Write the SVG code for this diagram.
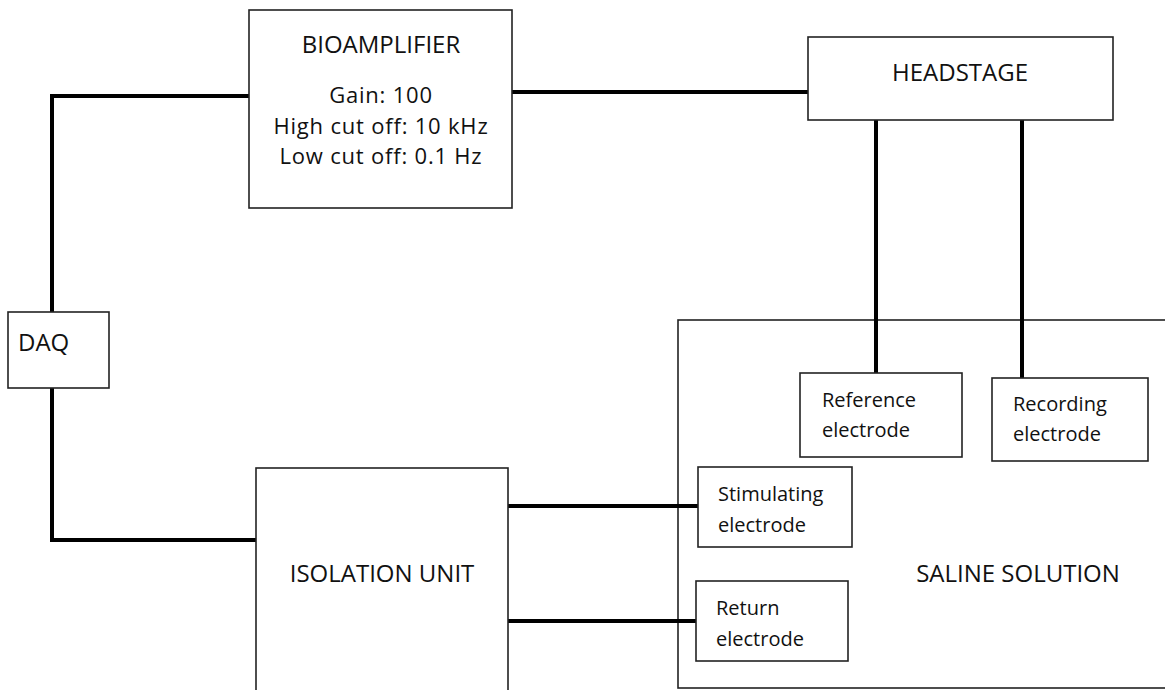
<svg xmlns="http://www.w3.org/2000/svg" width="1165" height="690" viewBox="0 0 1165 690">
<style>
.box{fill:#fff;stroke:#222;stroke-width:1.6}
.wire{fill:none;stroke:#000;stroke-width:4;stroke-linejoin:miter;stroke-linecap:butt}
.t{font-family:"Open Sans","Noto Sans",sans-serif;font-size:24px;fill:#111}
.p{font-family:"Open Sans","Noto Sans",sans-serif;font-size:22px;letter-spacing:0.8px;fill:#111}
.s{font-family:"Open Sans","Noto Sans",sans-serif;font-size:20px;fill:#111}
.c{text-anchor:middle}
</style>
<rect width="1165" height="690" fill="#fff"/>
<g id="saline">
<rect class="box" x="678" y="320" width="520" height="368"/>
<text class="t c" x="1018" y="582">SALINE SOLUTION</text>
</g>
<g id="connectors">
<polyline class="wire" points="52,312 52,96 249,96"/>
<line class="wire" x1="512" y1="92" x2="808" y2="92"/>
<line class="wire" x1="876" y1="120" x2="876" y2="373"/>
<line class="wire" x1="1022" y1="120" x2="1022" y2="378"/>
<polyline class="wire" points="52,388 52,540 256,540"/>
<line class="wire" x1="508" y1="506" x2="698" y2="506"/>
<line class="wire" x1="508" y1="621" x2="696" y2="621"/>
</g>
<g id="bioamplifier">
<rect class="box" x="249" y="10" width="263" height="198"/>
<text class="t c" x="381" y="53">BIOAMPLIFIER</text>
<text class="p c" x="381" y="103">Gain: 100</text>
<text class="p c" x="381" y="133.5">High cut off: 10 kHz</text>
<text class="p c" x="381" y="164">Low cut off: 0.1 Hz</text>
</g>
<g id="headstage">
<rect class="box" x="808" y="37" width="305" height="83"/>
<text class="t c" x="960" y="81">HEADSTAGE</text>
</g>
<g id="daq">
<rect class="box" x="8" y="312" width="101" height="76"/>
<text class="t" x="18" y="351">DAQ</text>
</g>
<g id="isolation">
<rect class="box" x="256" y="468" width="252" height="240"/>
<text class="t c" x="382" y="582">ISOLATION UNIT</text>
</g>
<g id="reference">
<rect class="box" x="800" y="373" width="162" height="84"/>
<text class="s" x="822" y="407">Reference</text>
<text class="s" x="822" y="437">electrode</text>
</g>
<g id="recording">
<rect class="box" x="992" y="378" width="156" height="83"/>
<text class="s" x="1013" y="411">Recording</text>
<text class="s" x="1013" y="441">electrode</text>
</g>
<g id="stimulating">
<rect class="box" x="698" y="467" width="154" height="80"/>
<text class="s" x="718" y="501">Stimulating</text>
<text class="s" x="718" y="532">electrode</text>
</g>
<g id="return">
<rect class="box" x="696" y="581" width="152" height="80"/>
<text class="s" x="716" y="615">Return</text>
<text class="s" x="716" y="646">electrode</text>
</g>
</svg>
